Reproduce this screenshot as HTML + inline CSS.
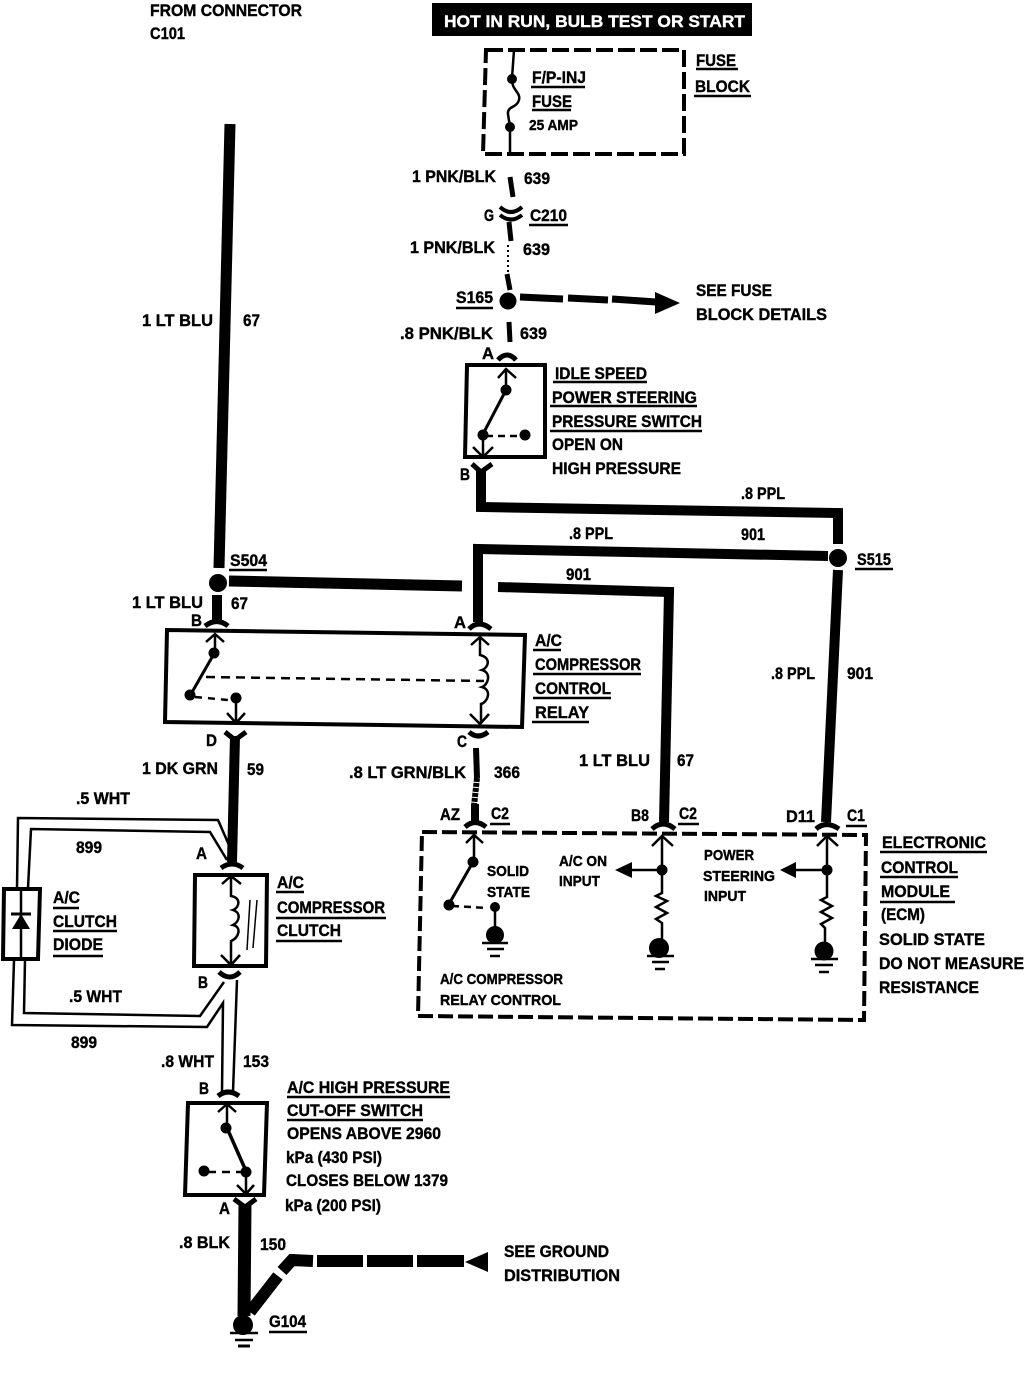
<!DOCTYPE html>
<html><head><meta charset="utf-8"><title>A/C Compressor Control Wiring Diagram</title>
<style>
html,body{margin:0;padding:0;background:#fff;width:1024px;height:1376px;overflow:hidden}
svg{display:block}
text{font-family:"Liberation Sans",sans-serif;font-weight:bold;font-size:17px;fill:#000;stroke:#000;stroke-width:.4}
.s{font-size:15px}
.w{fill:none;stroke:#000;stroke-linejoin:miter}
</style></head><body>
<svg width="1024" height="1376" viewBox="0 0 1024 1376" xmlns="http://www.w3.org/2000/svg">
<rect width="1024" height="1376" fill="#fff"/>
<!-- header -->
<text x="150" y="16" textLength="152" lengthAdjust="spacingAndGlyphs">FROM CONNECTOR</text>
<text x="150" y="39" textLength="35" lengthAdjust="spacingAndGlyphs">C101</text>
<rect x="432" y="3" width="320" height="33" fill="#000"/>
<text x="444" y="27" textLength="301" lengthAdjust="spacingAndGlyphs" style="fill:#fff;stroke:#fff">HOT IN RUN, BULB TEST OR START</text>
<!-- fuse block -->
<path class="w" stroke-width="4" stroke-dasharray="17 5" d="M486,50H684V154H483Z"/>
<path class="w" stroke-width="2.5" d="M514,50L512,78C511,90 521,92 519,100C517,108 507,106 508,114C509,122 510,124 510,127V155"/>
<circle cx="512" cy="79" r="5"/><circle cx="510" cy="127" r="5"/>
<text x="532" y="83" textLength="54" lengthAdjust="spacingAndGlyphs">F/P-INJ</text><path class="w" stroke-width="2.5" d="M531,87H585"/>
<text x="532" y="107" textLength="40" lengthAdjust="spacingAndGlyphs">FUSE</text><path class="w" stroke-width="2.5" d="M532,110H571"/>
<text class="s" x="529" y="130" textLength="49" lengthAdjust="spacingAndGlyphs">25 AMP</text>
<text x="696" y="66" textLength="40" lengthAdjust="spacingAndGlyphs">FUSE</text><path class="w" stroke-width="2.5" d="M696,69H738"/>
<text x="695" y="92" textLength="55" lengthAdjust="spacingAndGlyphs">BLOCK</text><path class="w" stroke-width="2.5" d="M694,96H751"/>
<text x="412" y="182" textLength="84" lengthAdjust="spacingAndGlyphs">1 PNK/BLK</text>
<text x="524" y="184" textLength="26" lengthAdjust="spacingAndGlyphs">639</text>
<path class="w" stroke-width="5" d="M510,177L513,197"/>
<text x="484" y="221" textLength="10" lengthAdjust="spacingAndGlyphs">G</text>
<path class="w" stroke-width="4" d="M500,207Q511,217 522,207M500,215Q511,224 522,215"/>
<text x="530" y="221" textLength="37" lengthAdjust="spacingAndGlyphs">C210</text><path class="w" stroke-width="2.5" d="M529,225H568"/>
<path class="w" stroke-width="5" d="M509,222L511,241"/>
<text x="410" y="253" textLength="85" lengthAdjust="spacingAndGlyphs">1 PNK/BLK</text>
<text x="523" y="255" textLength="27" lengthAdjust="spacingAndGlyphs">639</text>
<path class="w" stroke-width="2" stroke-dasharray="2 3" d="M508,245V272"/>
<path class="w" stroke-width="5" d="M507,274L510,290"/>
<text x="456" y="303" textLength="37" lengthAdjust="spacingAndGlyphs">S165</text><path class="w" stroke-width="2.5" d="M456,308H493"/>
<circle cx="508" cy="301" r="8.5"/>
<path class="w" stroke-width="7" d="M520,297L563,299M568,298L608,300M612,299L656,302"/>
<path d="M655,292L680,303L655,314Z"/>
<text x="696" y="296" textLength="76" lengthAdjust="spacingAndGlyphs">SEE FUSE</text>
<text x="696" y="320" textLength="131" lengthAdjust="spacingAndGlyphs">BLOCK DETAILS</text>
<text x="400" y="339" textLength="93" lengthAdjust="spacingAndGlyphs">.8 PNK/BLK</text>
<text x="520" y="339" textLength="27" lengthAdjust="spacingAndGlyphs">639</text>
<path class="w" stroke-width="5" d="M509,322L510,342"/>
<!-- idle speed switch -->
<text x="482" y="359" textLength="12" lengthAdjust="spacingAndGlyphs">A</text>
<path class="w" stroke-width="5" d="M498,360Q507,350 516,360"/>
<path class="w" stroke-width="4" d="M467,365H545V457H465Z"/>
<path class="w" stroke-width="2.5" d="M498,378L506,369L516,378M506,369V390"/>
<path class="w" stroke-width="3" d="M506,390L483,434"/>
<path class="w" stroke-width="2.5" stroke-dasharray="7 5" d="M486,436L522,436"/>
<circle cx="506" cy="390" r="5.5"/><circle cx="483" cy="435" r="5.5"/><circle cx="525" cy="435" r="5.5"/>
<path class="w" stroke-width="2.5" d="M483,436V457M473,447L483,457L493,447"/>
<text x="555" y="379" textLength="92" lengthAdjust="spacingAndGlyphs">IDLE SPEED</text><path class="w" stroke-width="2.5" d="M553,382H647"/>
<text x="552" y="403" textLength="145" lengthAdjust="spacingAndGlyphs">POWER STEERING</text><path class="w" stroke-width="2.5" d="M550,406H697"/>
<text x="552" y="427" textLength="150" lengthAdjust="spacingAndGlyphs">PRESSURE SWITCH</text><path class="w" stroke-width="2.5" d="M550,431H702"/>
<text x="552" y="450" textLength="71" lengthAdjust="spacingAndGlyphs">OPEN ON</text>
<text x="552" y="474" textLength="129" lengthAdjust="spacingAndGlyphs">HIGH PRESSURE</text>
<text x="460" y="480" textLength="10" lengthAdjust="spacingAndGlyphs">B</text>
<path class="w" stroke-width="5" d="M472,464L481,472L492,464"/>
<!-- PPL wires -->
<path class="w" stroke-width="10" d="M481,470V507L838,513V544"/>
<path class="w" stroke-width="10" d="M478,622V549L828,556"/>
<circle cx="838" cy="558" r="9"/>
<path class="w" stroke-width="10" d="M838,570L826,822"/>
<path class="w" stroke-width="10" d="M498,587L669,592L664,822"/>
<text x="741" y="499" textLength="44" lengthAdjust="spacingAndGlyphs">.8 PPL</text>
<text x="569" y="539" textLength="44" lengthAdjust="spacingAndGlyphs">.8 PPL</text>
<text x="741" y="540" textLength="24" lengthAdjust="spacingAndGlyphs">901</text>
<text x="566" y="580" textLength="25" lengthAdjust="spacingAndGlyphs">901</text>
<text x="857" y="565" textLength="34" lengthAdjust="spacingAndGlyphs">S515</text><path class="w" stroke-width="2.5" d="M855,569H893"/>
<!-- LT BLU -->
<path class="w" stroke-width="11" d="M230,124L219,568"/>
<circle cx="218" cy="583" r="9"/>
<path class="w" stroke-width="11" d="M229,581L462,586"/>
<path class="w" stroke-width="10" d="M217,595V622"/>
<text x="142" y="326" textLength="71" lengthAdjust="spacingAndGlyphs">1 LT BLU</text>
<text x="243" y="326" textLength="17" lengthAdjust="spacingAndGlyphs">67</text>
<text x="230" y="566" textLength="37" lengthAdjust="spacingAndGlyphs">S504</text><path class="w" stroke-width="2.5" d="M229,570H267"/>
<text x="132" y="608" textLength="71" lengthAdjust="spacingAndGlyphs">1 LT BLU</text>
<text x="231" y="609" textLength="17" lengthAdjust="spacingAndGlyphs">67</text>
<text x="191" y="626" textLength="11" lengthAdjust="spacingAndGlyphs">B</text>
<text x="454" y="628" textLength="12" lengthAdjust="spacingAndGlyphs">A</text>
<path class="w" stroke-width="5" d="M205,626Q217,617 228,626"/>
<path class="w" stroke-width="5" d="M469,629Q479,619 491,629"/>
<!-- relay -->
<path class="w" stroke-width="4" d="M167,630L525,635L522,727L165,722Z"/>
<path class="w" stroke-width="2.5" d="M206,642L215,634L224,642M215,634V652"/>
<path class="w" stroke-width="3" d="M215,652L191,694"/>
<circle cx="214" cy="653" r="5.5"/><circle cx="190" cy="695" r="5.5"/>
<path class="w" stroke-width="2.5" stroke-dasharray="9 6" d="M206,677L484,681"/>
<path class="w" stroke-width="2.5" stroke-dasharray="7 6" d="M195,697L228,700"/>
<circle cx="236" cy="698" r="5.5"/>
<path class="w" stroke-width="2.5" d="M236,698V722M227,713L236,723L245,713"/>
<path class="w" stroke-width="2.5" d="M471,645L480,637L489,645M480,637V655C492,658 488,668 482,670C492,673 488,685 482,687C492,690 488,702 481,704V723M470,714L480,724L489,714"/>
<text x="535" y="646" textLength="27" lengthAdjust="spacingAndGlyphs">A/C</text><path class="w" stroke-width="2.5" d="M533,650H561"/>
<text x="535" y="670" textLength="106" lengthAdjust="spacingAndGlyphs">COMPRESSOR</text><path class="w" stroke-width="2.5" d="M533,674H641"/>
<text x="535" y="694" textLength="76" lengthAdjust="spacingAndGlyphs">CONTROL</text><path class="w" stroke-width="2.5" d="M533,698H611"/>
<text x="535" y="718" textLength="54" lengthAdjust="spacingAndGlyphs">RELAY</text><path class="w" stroke-width="2.5" d="M532,722H589"/>
<text x="206" y="746" textLength="11" lengthAdjust="spacingAndGlyphs">D</text>
<text x="457" y="747" textLength="10" lengthAdjust="spacingAndGlyphs">C</text>
<path class="w" stroke-width="5" d="M225,732L235,740L246,732"/>
<path class="w" stroke-width="5" d="M469,732Q478,740 488,732"/>
<path class="w" stroke-width="10" d="M235,736L232,862"/>
<path class="w" stroke-width="6" d="M476,748L477,778"/>
<path class="w" stroke-width="6" stroke-dasharray="4 1" d="M477,778L474,806"/>
<text x="142" y="774" textLength="76" lengthAdjust="spacingAndGlyphs">1 DK GRN</text>
<text x="247" y="775" textLength="17" lengthAdjust="spacingAndGlyphs">59</text>
<text x="349" y="778" textLength="117" lengthAdjust="spacingAndGlyphs">.8 LT GRN/BLK</text>
<text x="494" y="778" textLength="26" lengthAdjust="spacingAndGlyphs">366</text>
<text x="579" y="766" textLength="71" lengthAdjust="spacingAndGlyphs">1 LT BLU</text>
<text x="677" y="766" textLength="17" lengthAdjust="spacingAndGlyphs">67</text>
<text x="771" y="679" textLength="44" lengthAdjust="spacingAndGlyphs">.8 PPL</text>
<text x="847" y="679" textLength="26" lengthAdjust="spacingAndGlyphs">901</text>
<!-- ECM -->
<path class="w" stroke-width="4" stroke-dasharray="15 5" d="M422,832L866,835L864,1020L418,1016Z"/>
<path class="w" stroke-width="8" d="M475,804V822"/>
<path class="w" stroke-width="5" d="M465,827Q475,818 486,827"/>
<path class="w" stroke-width="5" d="M652,829Q663,819 675,829"/>
<path class="w" stroke-width="5" d="M816,829Q826,820 839,829"/>
<text x="440" y="820" textLength="20" lengthAdjust="spacingAndGlyphs">AZ</text>
<text x="491" y="819" textLength="18" lengthAdjust="spacingAndGlyphs">C2</text><path class="w" stroke-width="2.5" d="M490,824H510"/>
<text x="631" y="821" textLength="18" lengthAdjust="spacingAndGlyphs">B8</text>
<text x="679" y="819" textLength="18" lengthAdjust="spacingAndGlyphs">C2</text><path class="w" stroke-width="2.5" d="M678,824H699"/>
<text x="786" y="822" textLength="29" lengthAdjust="spacingAndGlyphs">D11</text>
<text x="847" y="821" textLength="18" lengthAdjust="spacingAndGlyphs">C1</text><path class="w" stroke-width="2.5" d="M846,826H867"/>
<!-- ECM left -->
<path class="w" stroke-width="2.5" d="M466,843L474,835L483,843M474,835V862"/>
<path class="w" stroke-width="3" d="M473,862L449,904"/>
<circle cx="473" cy="862" r="5.5"/><circle cx="449" cy="905" r="5.5"/>
<path class="w" stroke-width="2.5" stroke-dasharray="7 5" d="M452,906L488,908"/>
<circle cx="495" cy="907" r="5"/>
<path class="w" stroke-width="2.5" d="M495,908V930"/>
<circle cx="495" cy="935" r="9"/>
<path class="w" stroke-width="2.5" d="M482,943H508M487,949H504"/><path class="w" stroke-width="2.5" d="M490,956H500"/>
<text class="s" x="487" y="876" textLength="42" lengthAdjust="spacingAndGlyphs">SOLID</text>
<text class="s" x="487" y="897" textLength="43" lengthAdjust="spacingAndGlyphs">STATE</text>
<text class="s" x="440" y="984" textLength="123" lengthAdjust="spacingAndGlyphs">A/C COMPRESSOR</text>
<text class="s" x="440" y="1005" textLength="121" lengthAdjust="spacingAndGlyphs">RELAY CONTROL</text>
<!-- ECM middle -->
<path class="w" stroke-width="2.5" d="M652,846L662,836L673,846M662,836V893L656,896L667,901L656,907L667,913L656,919L662,923V942"/>
<circle cx="662" cy="870" r="5.5"/>
<path class="w" stroke-width="2.5" d="M662,870H630"/><path d="M615,870L632,862V878Z"/>
<circle cx="659" cy="948" r="10"/>
<path class="w" stroke-width="2.5" d="M647,956H674M652,962H669"/><path class="w" stroke-width="2.5" d="M655,969H665"/>
<text class="s" x="559" y="866" textLength="48" lengthAdjust="spacingAndGlyphs">A/C ON</text>
<text class="s" x="559" y="886" textLength="41" lengthAdjust="spacingAndGlyphs">INPUT</text>
<!-- ECM right -->
<path class="w" stroke-width="2.5" d="M817,846L827,836L838,846M827,836V897L821,900L832,906L821,912L832,918L821,924L825,928V945"/>
<circle cx="827" cy="870" r="5.5"/>
<path class="w" stroke-width="2.5" d="M827,870H795"/><path d="M780,870L796,862V878Z"/>
<circle cx="824" cy="951" r="9.5"/>
<path class="w" stroke-width="2.5" d="M811,959H838M815,965H833"/><path class="w" stroke-width="2.5" d="M819,972H829"/>
<text class="s" x="704" y="860" textLength="50" lengthAdjust="spacingAndGlyphs">POWER</text>
<text class="s" x="703" y="881" textLength="72" lengthAdjust="spacingAndGlyphs">STEERING</text>
<text class="s" x="704" y="901" textLength="42" lengthAdjust="spacingAndGlyphs">INPUT</text>
<!-- ECM label -->
<text x="882" y="848" textLength="104" lengthAdjust="spacingAndGlyphs">ELECTRONIC</text><path class="w" stroke-width="2.5" d="M880,852H987"/>
<text x="881" y="873" textLength="77" lengthAdjust="spacingAndGlyphs">CONTROL</text><path class="w" stroke-width="2.5" d="M880,877H958"/>
<text x="881" y="897" textLength="69" lengthAdjust="spacingAndGlyphs">MODULE</text><path class="w" stroke-width="2.5" d="M880,902H955"/>
<text x="881" y="920" textLength="44" lengthAdjust="spacingAndGlyphs">(ECM)</text>
<text x="879" y="945" textLength="106" lengthAdjust="spacingAndGlyphs">SOLID STATE</text>
<text x="879" y="969" textLength="145" lengthAdjust="spacingAndGlyphs">DO NOT MEASURE</text>
<text x="879" y="993" textLength="100" lengthAdjust="spacingAndGlyphs">RESISTANCE</text>
<!-- white wires / diode -->
<path class="w" stroke-width="2.5" d="M17,888L18,818L218,820L232,852"/>
<path class="w" stroke-width="2.5" d="M28,888L31,829L210,832L227,860"/>
<path class="w" stroke-width="2.5" d="M14,960L12,1025L207,1027L223,1003L222,1092"/>
<path class="w" stroke-width="2.5" d="M25,960L24,1013L200,1016L224,982"/>
<path class="w" stroke-width="2.5" d="M237,980L233,1092"/>
<path class="w" stroke-width="4" d="M4,889H40L38,959H3Z"/>
<path class="w" stroke-width="2.5" d="M21,889V959"/>
<path d="M12,929H30L21,914Z"/><path class="w" stroke-width="3" d="M11,914H31"/>
<text x="53" y="903" textLength="27" lengthAdjust="spacingAndGlyphs">A/C</text><path class="w" stroke-width="2.5" d="M53,908H79"/>
<text x="53" y="927" textLength="64" lengthAdjust="spacingAndGlyphs">CLUTCH</text><path class="w" stroke-width="2.5" d="M53,931H117"/>
<text x="53" y="950" textLength="50" lengthAdjust="spacingAndGlyphs">DIODE</text><path class="w" stroke-width="2.5" d="M53,956H103"/>
<text x="76" y="804" textLength="54" lengthAdjust="spacingAndGlyphs">.5 WHT</text>
<text x="76" y="853" textLength="26" lengthAdjust="spacingAndGlyphs">899</text>
<text x="69" y="1002" textLength="53" lengthAdjust="spacingAndGlyphs">.5 WHT</text>
<text x="71" y="1048" textLength="26" lengthAdjust="spacingAndGlyphs">899</text>
<text x="196" y="859" textLength="11" lengthAdjust="spacingAndGlyphs">A</text>
<text x="198" y="988" textLength="10" lengthAdjust="spacingAndGlyphs">B</text>
<!-- clutch -->
<path class="w" stroke-width="5" d="M221,868Q232,860 243,868"/>
<path class="w" stroke-width="4" d="M195,875H267L266,966H194Z"/>
<path class="w" stroke-width="2.5" d="M222,884L231,876L241,884M231,876V896C242,898 239,908 233,910C242,913 239,922 233,925C242,927 239,938 231,941V963M221,955L231,965L240,955"/>
<path class="w" stroke-width="1.5" d="M250,900L247,950M257,900L253,948"/>
<path class="w" stroke-width="5" d="M219,972Q230,982 240,972"/>
<text x="277" y="888" textLength="27" lengthAdjust="spacingAndGlyphs">A/C</text><path class="w" stroke-width="2.5" d="M276,892H304"/>
<text x="277" y="913" textLength="108" lengthAdjust="spacingAndGlyphs">COMPRESSOR</text><path class="w" stroke-width="2.5" d="M276,918H386"/>
<text x="277" y="936" textLength="64" lengthAdjust="spacingAndGlyphs">CLUTCH</text><path class="w" stroke-width="2.5" d="M276,941H342"/>
<text x="161" y="1067" textLength="53" lengthAdjust="spacingAndGlyphs">.8 WHT</text>
<text x="243" y="1067" textLength="26" lengthAdjust="spacingAndGlyphs">153</text>
<text x="199" y="1094" textLength="10" lengthAdjust="spacingAndGlyphs">B</text>
<!-- HP switch -->
<path class="w" stroke-width="5" d="M218,1096Q228,1088 239,1096"/>
<path class="w" stroke-width="4" d="M188,1103H267L264,1195H185Z"/>
<path class="w" stroke-width="2.5" d="M218,1112L227,1104L236,1112M227,1104V1127"/>
<path class="w" stroke-width="3.5" d="M227,1128L246,1171"/>
<circle cx="226" cy="1128" r="5.5"/><circle cx="246" cy="1172" r="5.5"/><circle cx="204" cy="1171" r="5.5"/>
<path class="w" stroke-width="2.5" stroke-dasharray="8 6" d="M208,1172H242"/>
<path class="w" stroke-width="2.5" d="M246,1172V1193M237,1185L246,1194L254,1185"/>
<path class="w" stroke-width="5" d="M234,1199L245,1207L256,1199"/>
<text x="287" y="1093" textLength="163" lengthAdjust="spacingAndGlyphs">A/C HIGH PRESSURE</text><path class="w" stroke-width="2.5" d="M287,1097H450"/>
<text x="287" y="1116" textLength="136" lengthAdjust="spacingAndGlyphs">CUT-OFF SWITCH</text><path class="w" stroke-width="2.5" d="M287,1120H423"/>
<text x="287" y="1139" textLength="154" lengthAdjust="spacingAndGlyphs">OPENS ABOVE 2960</text>
<text x="286" y="1163" textLength="96" lengthAdjust="spacingAndGlyphs">kPa (430 PSI)</text>
<text x="286" y="1186" textLength="162" lengthAdjust="spacingAndGlyphs">CLOSES BELOW 1379</text>
<text x="285" y="1211" textLength="96" lengthAdjust="spacingAndGlyphs">kPa (200 PSI)</text>
<text x="219" y="1214" textLength="11" lengthAdjust="spacingAndGlyphs">A</text>
<text x="179" y="1248" textLength="51" lengthAdjust="spacingAndGlyphs">.8 BLK</text>
<text x="260" y="1250" textLength="26" lengthAdjust="spacingAndGlyphs">150</text>
<!-- ground -->
<path class="w" stroke-width="13" d="M245,1204L244,1316"/>
<path class="w" stroke-width="12" d="M250,1312L278,1276M282,1271L292,1260L313,1261M317,1261H363M367,1261H413M417,1261H464"/>
<path d="M465,1262L488,1252V1272Z"/>
<circle cx="243" cy="1325" r="10"/>
<path class="w" stroke-width="2.5" d="M230,1333H258M235,1340H253"/><path class="w" stroke-width="3" d="M238,1346H250"/>
<text x="269" y="1327" textLength="37" lengthAdjust="spacingAndGlyphs">G104</text><path class="w" stroke-width="2.5" d="M269,1332H307"/>
<text x="504" y="1257" textLength="105" lengthAdjust="spacingAndGlyphs">SEE GROUND</text>
<text x="504" y="1281" textLength="116" lengthAdjust="spacingAndGlyphs">DISTRIBUTION</text>
</svg>
</body></html>
